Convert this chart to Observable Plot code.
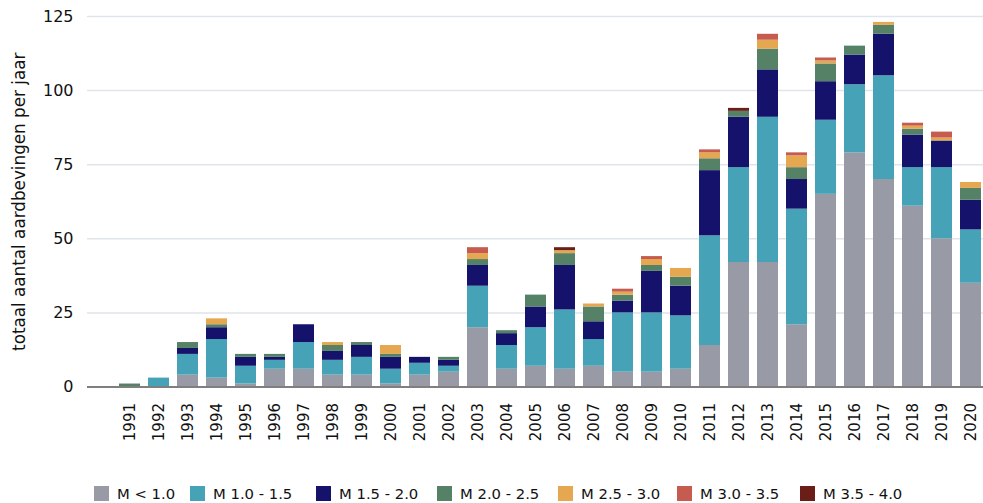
<!DOCTYPE html>
<html><head><meta charset="utf-8">
<script src="https://cdn.jsdelivr.net/npm/d3@7"></script>
<script src="https://cdn.jsdelivr.net/npm/@observablehq/plot@0.6"></script>
<style>
body{margin:0;background:#fff;}
#wrap{position:relative;width:983px;height:503px;overflow:hidden;}
#legend{position:absolute;top:485px;left:0;width:983px;height:18px;font-family:"DejaVu Sans";font-size:14.8px;color:#111}
.item{position:absolute;top:0;display:flex;align-items:center;height:16px;white-space:nowrap}
.sw{width:15px;height:15px;margin-right:8px;flex:none}
</style></head><body><div id="wrap"><div id="chart"></div><div id="legend"></div></div>
<script>
const years = [1991,1992,1993,1994,1995,1996,1997,1998,1999,2000,2001,2002,2003,2004,2005,2006,2007,2008,2009,2010,2011,2012,2013,2014,2015,2016,2017,2018,2019,2020];
const classes = ["M < 1.0","M 1.0 - 1.5","M 1.5 - 2.0","M 2.0 - 2.5","M 2.5 - 3.0","M 3.0 - 3.5","M 3.5 - 4.0"];
const colors = ["#989ba6","#46a2b7","#14126a","#558266","#e5a850","#c65b50","#6b1e17"];
const mLt10  = [0,0,4,3,1,6,6,4,4,1,4,5,20,6,7,6,7,5,5,6,14,42,42,21,65,79,70,61,50,35];
const m10_15 = [0,3,7,13,6,3,9,5,6,5,4,2,14,8,13,20,9,20,20,18,37,32,49,39,25,23,35,13,24,18];
const m15_20 = [0,0,2,4,3,1,6,3,4,4,2,2,7,4,7,15,6,4,14,10,22,17,16,10,13,10,14,11,9,10];
const m20_25 = [1,0,2,1,1,1,0,2,1,1,0,1,2,1,4,4,5,2,2,3,4,2,7,4,6,3,3,2,0,4];
const m25_30 = [0,0,0,2,0,0,0,1,0,3,0,0,2,0,0,1,1,1,2,3,2,0,3,4,1,0,1,1,1,2];
const m30_35 = [0,0,0,0,0,0,0,0,0,0,0,0,2,0,0,0,0,1,1,0,1,0,2,1,1,0,0,1,2,0];
const m35_40 = [0,0,0,0,0,0,0,0,0,0,0,0,0,0,0,1,0,0,0,0,0,1,0,0,0,0,0,0,0,0];
const yTicks = [0,25,50,75,100,125];
const yTitle = "totaal aantal aardbevingen per jaar";

const series = [mLt10, m10_15, m15_20, m20_25, m25_30, m30_35, m35_40];
const data = [];
years.forEach((yr, i) => {
  series.forEach((s, k) => data.push({year: yr, cls: classes[k], value: s[i]}));
});

const chart = Plot.plot({
  width: 983, height: 470,
  marginLeft: 87, marginRight: 0, marginTop: 16, marginBottom: 83.5,
  style: {fontFamily: "DejaVu Sans", color: "#111", background: "#fff", overflow: "visible"},
  x: {type: "band", domain: years, paddingInner: 0.293, paddingOuter: 0.2205, align: 0.916},
  y: {domain: [0, 125]},
  color: {domain: classes, range: colors},
  marks: [
    Plot.gridY(yTicks, {stroke: "#dfe5eb", strokeOpacity: 1, strokeWidth: 1.5}),
    Plot.barY(data, {x: "year", y: "value", fill: "cls"}),
    Plot.ruleY([0], {stroke: "#7f7f7f", strokeWidth: 2}),
    Plot.axisY(yTicks, {tickSize: 0, tickPadding: 14, fontSize: 16, label: null}),
    Plot.axisX({tickSize: 0, tickRotate: -90, tickPadding: 16, fontSize: 15, label: null, tickFormat: d => String(d)}),
    Plot.text([yTitle], {frameAnchor: "left", textAnchor: "middle", lineAnchor: "middle", rotate: -90, dx: -68, fontSize: 16.8})
  ]
});
document.getElementById("chart").appendChild(chart);

const lefts = [94, 190, 316, 437, 558, 677, 800];
const leg = document.getElementById("legend");
classes.forEach((c, k) => {
  const it = document.createElement("div");
  it.className = "item";
  it.style.left = lefts[k] + "px";
  const sw = document.createElement("span");
  sw.className = "sw";
  sw.style.background = colors[k];
  const tx = document.createElement("span");
  tx.textContent = c;
  it.appendChild(sw); it.appendChild(tx);
  leg.appendChild(it);
});
</script></body></html>
